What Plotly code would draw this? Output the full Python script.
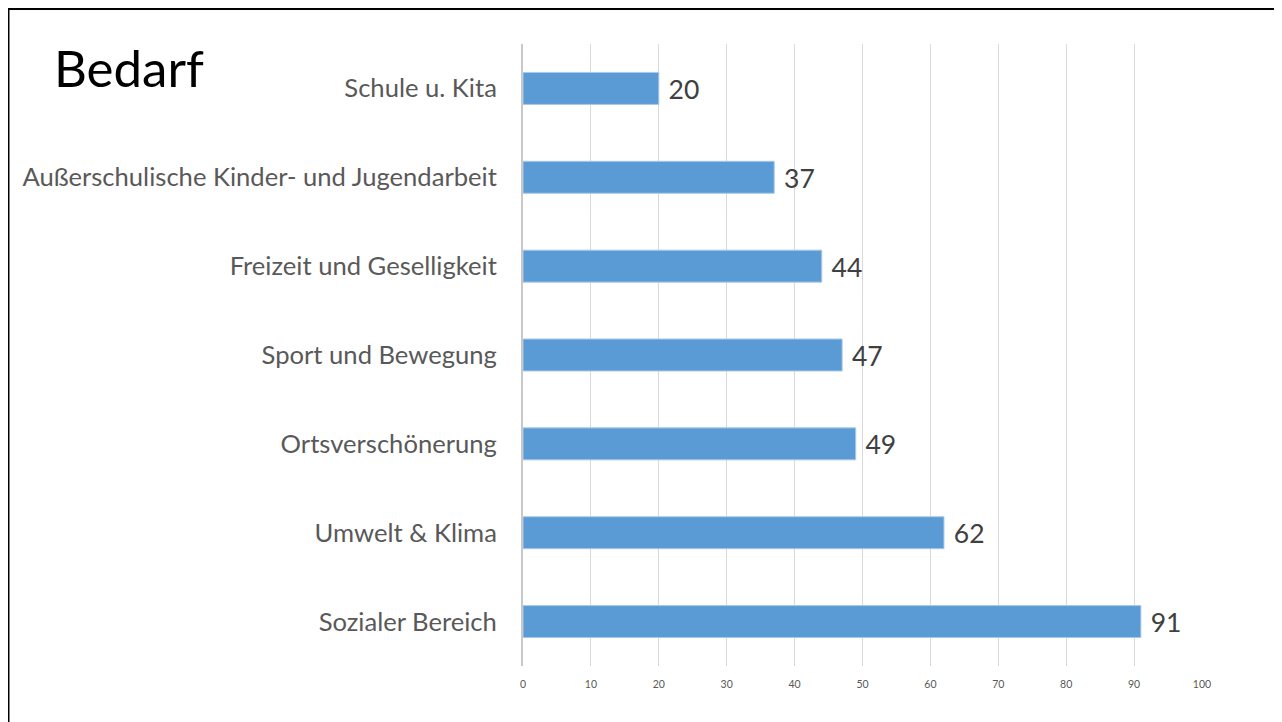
import plotly.graph_objects as go

categories = ["Schule u. Kita", "Außerschulische Kinder- und Jugendarbeit",
              "Freizeit und Geselligkeit", "Sport und Bewegung",
              "Ortsverschönerung", "Umwelt & Klima", "Sozialer Bereich"]
values = [20, 37, 44, 47, 49, 62, 91]
x_ticks = [0, 10, 20, 30, 40, 50, 60, 70, 80, 90, 100]
title_text = "Bedarf"

W, H = 1282, 722
L, T = 515, 36
pw, ph = 679, 622
R, B = W - L - pw, H - T - ph

fig = go.Figure(go.Bar(
    x=values, y=categories, orientation="h",
    marker=dict(color="#5b9bd5", line=dict(color="#a9c9ea", width=1)),
    width=0.36,
    text=[str(v) for v in values], texttemplate=" %{text}",
    textposition="outside",
    textfont=dict(size=29, color="#404040", family="Lato"),
    cliponaxis=False,
))

fig.update_layout(
    width=W, height=H,
    margin=dict(l=L, r=R, t=T, b=B, pad=0),
    paper_bgcolor="white", plot_bgcolor="white",
    font=dict(family="Lato"),
    showlegend=False,
    xaxis=dict(range=[0, 100], tickvals=x_ticks, showgrid=True,
               gridcolor="#d9d9d9", gridwidth=1, zeroline=False,
               showline=False, ticks="",
               tickfont=dict(size=10.5, color="#595959"), ticklabelstandoff=10),
    yaxis=dict(autorange="reversed", showgrid=False, showline=True,
               linecolor="#c8c8c8", linewidth=2, ticks="",
               tickfont=dict(size=25.6, color="#595959"), ticklabelstandoff=19),
    annotations=[dict(text=title_text, xref="paper", yref="paper",
                      x=(44 - L) / pw, y=(T + ph - 60) / ph, xanchor="left",
                      yanchor="middle", showarrow=False,
                      font=dict(size=51, color="black", family="Lato"))],
    shapes=[
        dict(type="line", xref="paper", yref="paper",
             x0=(0 - L) / pw, x1=(0 - L) / pw, y0=(T + ph - 0) / ph, y1=-1,
             line=dict(color="black", width=3)),
        dict(type="line", xref="paper", yref="paper",
             x0=(0 - L) / pw, x1=(W + 5 - L) / pw, y0=(T + ph - 1) / ph,
             y1=(T + ph - 1) / ph, line=dict(color="black", width=2)),
    ],
)

fig.write_html("out.html")
